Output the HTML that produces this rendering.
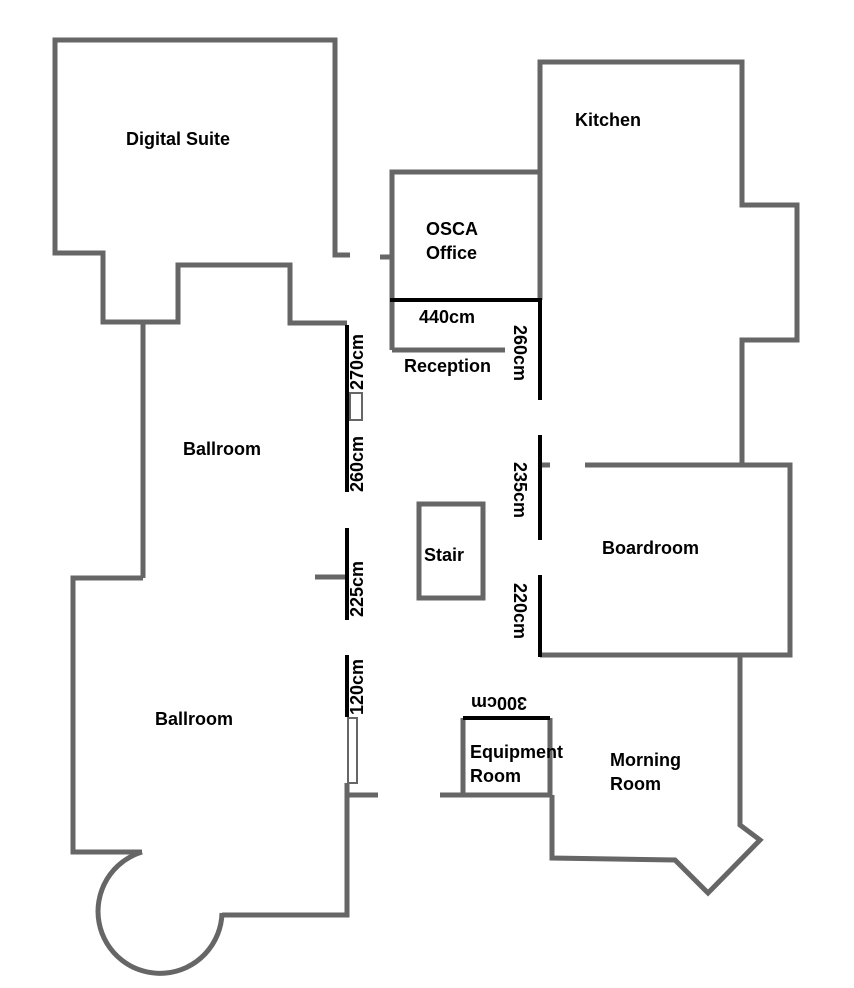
<!DOCTYPE html>
<html><head><meta charset="utf-8"><style>
html,body{margin:0;padding:0;background:#fff;}
svg{display:block;}
text{font-family:"Liberation Sans",Arial,sans-serif;font-weight:bold;font-size:18px;fill:#000;}
</style></head><body>
<svg width="854" height="988" viewBox="0 0 854 988" xmlns="http://www.w3.org/2000/svg">
<g fill="none" stroke="#666" stroke-width="5" stroke-linejoin="miter">
<polyline points="350,255 335,255 335,40 55,40 55,253 103,253 103,322 178,322 178,265 290,265 290,323 347,323"/>
<line x1="143" y1="322" x2="143" y2="578"/>
<polyline points="143,578 73,578 73,852 142,852"/>
<path d="M142,852 A62,62 0 1 0 222,913"/>
<polyline points="222,915 347,915 347,783"/>
<line x1="347" y1="795" x2="378" y2="795"/>
<line x1="315" y1="577" x2="347" y2="577"/>
<rect x="348" y="718" width="9" height="65" stroke-width="2"/>
<rect x="350" y="393" width="12" height="27" stroke-width="2"/>
<line x1="380" y1="257" x2="392" y2="257"/>
<polyline points="392,350 392,172 540,172"/>
<line x1="392" y1="350" x2="505" y2="350"/>
<polyline points="540,300 540,62 742,62 742,205 797,205 797,340 742,340 742,465"/>
<polyline points="585,465 790,465 790,655 540,655"/>
<line x1="540" y1="465" x2="550" y2="465"/>
<polyline points="740,655 740,825 760,840 708,893 675,860 552,858 552,795"/>
<polyline points="463,795 463,718"/>
<line x1="550" y1="718" x2="550" y2="795"/>
<line x1="440" y1="795" x2="552" y2="795"/>
<rect x="419" y="504" width="64" height="94"/>
</g>
<g stroke="#000" stroke-width="4">
<line x1="390" y1="300" x2="542" y2="300"/>
<line x1="540" y1="300" x2="540" y2="400"/>
<line x1="540" y1="435" x2="540" y2="540"/>
<line x1="540" y1="575" x2="540" y2="657"/>
<line x1="347" y1="325" x2="347" y2="492"/>
<line x1="347" y1="528" x2="347" y2="620"/>
<line x1="347" y1="655" x2="347" y2="717"/>
<line x1="463" y1="718" x2="550" y2="718"/>
</g>
<text x="126" y="145">Digital Suite</text>
<text x="575" y="126">Kitchen</text>
<text x="426" y="235">OSCA</text>
<text x="426" y="259">Office</text>
<text x="419" y="323">440cm</text>
<text x="404" y="372">Reception</text>
<text x="183" y="455">Ballroom</text>
<text x="424" y="561">Stair</text>
<text x="602" y="554">Boardroom</text>
<text x="155" y="725">Ballroom</text>
<text x="470" y="758">Equipment</text>
<text x="470" y="782">Room</text>
<text x="610" y="766">Morning</text>
<text x="610" y="790">Room</text>
<text transform="translate(363,390) rotate(-90)">270cm</text>
<text transform="translate(363,492) rotate(-90)">260cm</text>
<text transform="translate(363,617) rotate(-90)">225cm</text>
<text transform="translate(363,715) rotate(-90)">120cm</text>
<text transform="translate(514,325) rotate(90)">260cm</text>
<text transform="translate(514,462) rotate(90)">235cm</text>
<text transform="translate(514,583) rotate(90)">220cm</text>
<text transform="translate(527,697) rotate(180)">300cm</text>
</svg>
</body></html>
